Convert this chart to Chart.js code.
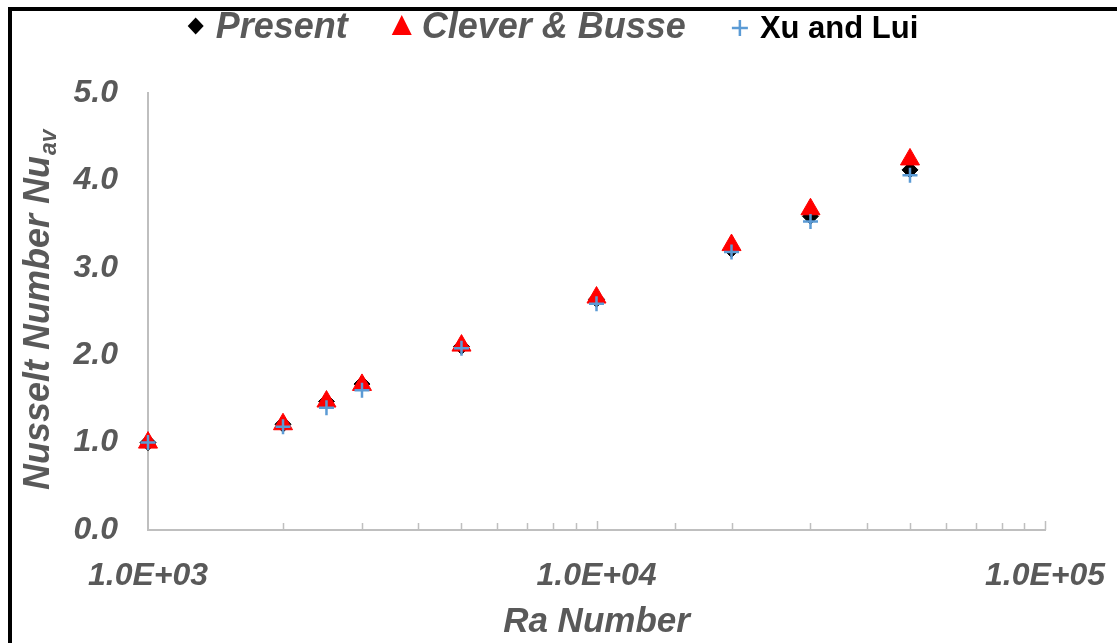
<!DOCTYPE html>
<html>
<head>
<meta charset="utf-8">
<script src="https://cdn.jsdelivr.net/npm/chart.js@4/dist/chart.umd.min.js"></script>
<style>
  html, body { margin: 0; padding: 0; background: #fff; }
  #wrap { position: relative; width: 1117px; height: 643px; }
  #frame {
    position: absolute; left: 8px; top: 7px; right: 0; bottom: 0;
    border-top: 4px solid #000; border-left: 4px solid #000;
    pointer-events: none;
  }
</style>
</head>
<body>
<div id="wrap">
  <canvas id="c1"></canvas>
  <div id="frame"></div>
</div>
<script>
// Rayleigh numbers (x) and average Nusselt numbers (y) per source
const raValues = [1000, 2000, 2500, 3000, 5000, 10000, 20000, 30000, 50000];
const present = [1.00, 1.21, 1.47, 1.67, 2.10, 2.64, 3.21, 3.59, 4.12];
const cleverBusse = [1.00, 1.21, 1.47, 1.66, 2.11, 2.66, 3.26, 3.67, 4.24];
const xuLui = [1.00, 1.18, 1.40, 1.60, 2.08, 2.59, 3.18, 3.53, 4.06];

const yTicks = [0, 1, 2, 3, 4, 5];
const xLabelTicks = [1000, 10000, 100000];

const grey = '#595959';
const axisColor = '#bfbfbf';
const fontFam = '"Liberation Sans", Arial, sans-serif';

function toPoints(ys) {
    return raValues.map((ra, i) => ({ x: ra, y: ys[i] }));
}

function sciLabel(v) {
    const exp = Math.round(Math.log10(v));
    const mant = v / Math.pow(10, exp);
    const e = (exp < 10 ? '0' : '') + exp;
    return mant.toFixed(1) + 'E+' + e;
}

function isPow10(v) {
    const l = Math.log10(v);
    return Math.abs(l - Math.round(l)) < 1e-9;
}

// x tick marks (pointing up), y title with subscript, custom legend
const extras = {
    id: 'extras',
    afterDraw(chart) {
        const ctx = chart.ctx;
        const xs = chart.scales.x;
        const area = chart.chartArea;

        ctx.save();
        ctx.strokeStyle = axisColor;
        ctx.lineWidth = 1.5;
        xs.ticks.forEach(t => {
            if (t.value <= xs.min) return;
            const px = Math.round(xs.getPixelForValue(t.value)) + 0.5;
            const len = isPow10(t.value) ? 9 : 7;
            ctx.beginPath();
            ctx.moveTo(px, area.bottom);
            ctx.lineTo(px, area.bottom - len);
            ctx.stroke();
        });
        ctx.restore();

        // y axis title
        ctx.save();
        ctx.translate(49, 490);
        ctx.rotate(-Math.PI / 2);
        ctx.fillStyle = grey;
        ctx.textBaseline = 'alphabetic';
        ctx.font = 'italic bold 36px ' + fontFam;
        const main = 'Nusselt Number Nu';
        ctx.fillText(main, 0, 0);
        const w = ctx.measureText(main).width;
        ctx.font = 'italic bold 23px ' + fontFam;
        ctx.fillText('av', w + 1, 7);
        ctx.restore();

        // legend
        const items = [
            { text: 'Present', font: 'italic bold 36px ' + fontFam, color: grey, marker: 'diamond' },
            { text: 'Clever & Busse', font: 'italic bold 36px ' + fontFam, color: grey, marker: 'triangle' },
            { text: 'Xu and Lui', font: 'bold 31px ' + fontFam, color: '#000', marker: 'plus' }
        ];
        ctx.save();
        items.forEach(it => { ctx.font = it.font; it.w = ctx.measureText(it.text).width; });
        const total = items.reduce((s, it) => s + 20 + it.w, 0) + 54 * 2 + 8;
        let cx = 553 - total / 2 + 8;
        const baseY = 38;
        items.forEach(it => {
            drawMarker(ctx, it.marker, cx, 26);
            ctx.font = it.font;
            ctx.fillStyle = it.color;
            ctx.textBaseline = 'alphabetic';
            ctx.fillText(it.text, cx + 20, baseY);
            cx += 20 + it.w + 54;
        });
        ctx.restore();
    }
};

function drawMarker(ctx, kind, x, y) {
    ctx.beginPath();
    if (kind === 'diamond') {
        ctx.fillStyle = '#000';
        ctx.moveTo(x, y - 8.5); ctx.lineTo(x + 8, y); ctx.lineTo(x, y + 8.5); ctx.lineTo(x - 8, y);
        ctx.closePath(); ctx.fill();
    } else if (kind === 'triangle') {
        ctx.fillStyle = '#ff0000';
        ctx.moveTo(x, y - 11); ctx.lineTo(x + 10, y + 9); ctx.lineTo(x - 10, y + 9);
        ctx.closePath(); ctx.fill();
    } else {
        ctx.strokeStyle = '#5b9bd5';
        ctx.lineWidth = 2.5;
        ctx.moveTo(x - 8, y + 2); ctx.lineTo(x + 8, y + 2);
        ctx.moveTo(x, y - 6); ctx.lineTo(x, y + 10);
        ctx.stroke();
    }
}

new Chart(document.getElementById('c1'), {
    type: 'scatter',
    data: {
        datasets: [
            {
                label: 'Present',
                data: toPoints(present),
                pointStyle: 'rectRot',
                pointRadius: 8,
                backgroundColor: '#000',
                borderColor: '#000',
                borderWidth: 1,
                clip: false,
                order: 2
            },
            {
                label: 'Clever & Busse',
                data: toPoints(cleverBusse),
                pointStyle: 'triangle',
                pointRadius: 11,
                backgroundColor: '#ff0000',
                borderColor: '#ff0000',
                borderWidth: 1,
                clip: false,
                order: 1
            },
            {
                label: 'Xu and Lui',
                data: toPoints(xuLui),
                pointStyle: 'cross',
                pointRadius: 7.5,
                borderColor: '#5b9bd5',
                backgroundColor: '#5b9bd5',
                borderWidth: 2.5,
                clip: false,
                order: 0
            }
        ]
    },
    options: {
        responsive: true,
        maintainAspectRatio: false,
        animation: false,
        layout: { padding: { top: 93, right: 72, left: 0, bottom: 0 } },
        plugins: {
            legend: { display: false },
            tooltip: { enabled: false }
        },
        scales: {
            x: {
                type: 'logarithmic',
                min: 1000,
                max: 100000,
                afterFit: s => { s.height = 113; s.paddingRight = 0; s.paddingLeft = 0; },
                grid: { display: false, drawTicks: false },
                border: { display: true, color: axisColor, width: 2 },
                ticks: {
                    autoSkip: false,
                    maxRotation: 0,
                    padding: 27,
                    color: grey,
                    font: { family: fontFam, size: 32, weight: 'bold', style: 'italic' },
                    callback: function (value) {
                        return xLabelTicks.some(v => Math.abs(v - value) < 1e-6) ? sciLabel(value) : '';
                    }
                },
                title: {
                    display: true,
                    text: 'Ra Number',
                    color: grey,
                    padding: { top: 0, bottom: 0 },
                    font: { family: fontFam, size: 35, weight: 'bold', style: 'italic' }
                }
            },
            y: {
                min: 0,
                max: 5,
                afterFit: s => { s.width = 148; },
                afterBuildTicks: s => { s.ticks = yTicks.map(v => ({ value: v })); },
                grid: { display: false, drawTicks: false },
                border: { display: true, color: axisColor, width: 2 },
                ticks: {
                    padding: 30,
                    color: grey,
                    font: { family: fontFam, size: 32, weight: 'bold', style: 'italic' },
                    callback: v => v.toFixed(1)
                }
            }
        }
    },
    plugins: [extras]
});
</script>
</body>
</html>
